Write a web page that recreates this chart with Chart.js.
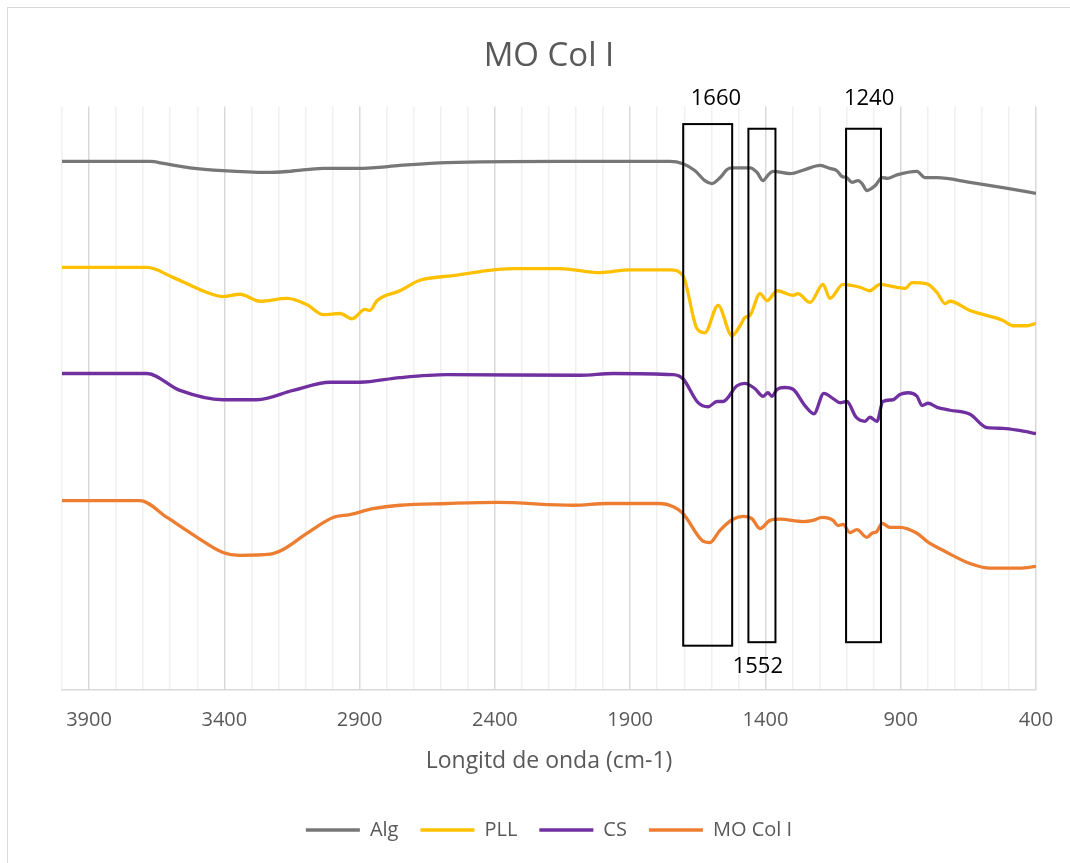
<!DOCTYPE html>
<html><head><meta charset="utf-8">
<script src="https://cdn.jsdelivr.net/npm/chart.js@4.4.0/dist/chart.umd.min.js"></script>
<style>
html,body{margin:0;padding:0;background:#fff;}
#wrap{position:relative;width:1070px;height:863px;overflow:hidden;background:#fff;}
#frame{position:absolute;left:7px;top:7px;width:1200px;height:1000px;border:1.5px solid #d9d9d9;box-sizing:border-box;}
canvas{position:absolute;left:0;top:0;}
</style></head><body>
<div id="wrap"><div id="frame"></div><canvas id="c" width="1070" height="863"></canvas></div>
<script>
// ---- Data (wavenumber cm-1, relative transmittance, arbitrary offset units) ----
const seriesNames = ['Alg', 'PLL', 'CS', 'MO Col I'];

const algWn  = [4000,3675,3619,3527,3405,3242,3157,3035,2910,2854,2751,2577,2159,1753,1705,1660,1624,1598,1568,1542,1524,1457,1431,1409,1391,1372,1309,1254,1198,1162,1136,1117,1099,1080,1058,1043,1025,995,969,947,914,840,810,766,644,522,400];
const algVal = [90.6,90.6,90.2,89.5,89.0,88.7,88.9,89.4,89.4,89.5,89.9,90.4,90.6,90.6,90.2,89.0,87.3,86.8,87.8,89.2,89.5,89.5,88.7,87.3,88.2,88.9,88.5,89.2,89.9,89.4,89.0,88.0,87.8,87.0,87.3,86.8,85.6,86.4,87.8,87.7,88.3,88.9,87.8,87.8,87.0,86.1,85.1];

const pllWn  = [4000,3686,3590,3464,3405,3342,3268,3168,3094,3035,2973,2928,2880,2862,2836,2751,2677,2555,2455,2333,2159,2012,1901,1753,1705,1653,1624,1575,1524,1494,1476,1457,1420,1394,1357,1298,1280,1235,1187,1162,1113,1051,1014,977,914,884,858,803,766,736,718,644,522,485,433,400];
const pllVal = [72.4,72.4,70.7,68.1,67.4,67.8,66.6,67.1,66.0,64.3,64.5,63.6,65.2,65.0,66.7,68.4,70.2,71.0,71.7,72.2,72.2,71.5,72.0,72.0,71.0,61.9,61.2,65.9,60.7,62.4,63.8,64.2,67.9,66.7,68.4,67.6,67.9,66.4,69.5,67.1,69.5,69.0,68.4,69.5,69.0,68.8,69.8,69.6,68.1,66.2,66.6,65.0,63.3,62.4,62.4,62.8];

const csWn  = [4000,3686,3564,3405,3279,3146,3009,2899,2751,2577,2085,1963,1742,1705,1649,1612,1579,1557,1505,1476,1439,1409,1391,1376,1357,1328,1298,1254,1221,1184,1150,1125,1099,1065,1032,1014,988,966,929,903,873,840,821,799,766,718,644,581,522,448,400];
const csVal = [54.2,54.2,51.3,49.7,49.7,51.3,52.7,52.7,53.5,54.0,53.9,54.2,54.0,53.3,49.2,48.5,49.4,49.4,52.1,52.5,51.6,50.3,50.9,50.3,51.5,51.8,51.5,48.7,47.3,50.8,49.9,49.2,49.4,46.7,46.0,46.7,46.0,49.4,49.7,50.6,50.9,50.3,48.7,49.1,48.4,47.9,47.2,44.9,44.8,44.3,43.9];

const moWn  = [4000,3712,3612,3501,3405,3342,3231,3183,3094,2998,2936,2851,2751,2577,2392,2111,1986,1790,1742,1705,1635,1605,1568,1520,1483,1450,1420,1383,1346,1261,1224,1191,1150,1132,1113,1088,1062,1025,1006,988,969,940,903,840,803,729,644,570,459,400];
const moVal = [32.4,32.4,29.5,26.1,23.5,23.0,23.2,24.0,26.8,29.5,30.0,31.0,31.6,31.9,32.1,31.6,31.9,31.9,31.4,30.2,25.6,25.2,27.3,29.2,29.7,29.3,27.6,29.0,29.2,28.8,29.0,29.5,29.0,28.1,28.3,26.9,27.4,26.1,26.8,27.1,28.5,27.8,27.8,26.8,25.4,23.5,21.6,20.8,20.8,21.1];

// x-axis tick labels (major)
const majorTicks = [3900,3400,2900,2400,1900,1400,900,400];

// highlighted bands (cm-1) and their labels
const bandFrom  = [1704, 1463, 1102];
const bandTo    = [1523, 1363, 973];
const bandTop   = [97.0, 96.2, 96.2];
const bandBot   = [7.5, 8.1, 8.1];
const bandLabel = ['1660', '1552', '1240'];
const bandLabelX = [1583, 1428, 1017];
const bandLabelY = [101.4, 3.9, 101.4];

const FONT = '"Open Sans", "Liberation Sans", sans-serif';
const colors = ['#777777', '#FFC000', '#7030A0', '#ED7D31'];
const wns = [algWn, pllWn, csWn, moWn];
const vals = [algVal, pllVal, csVal, moVal];

const datasets = seriesNames.map((name, i) => ({
  label: name,
  data: wns[i].map((w, k) => ({x: w, y: vals[i][k]})),
  borderColor: colors[i],
  backgroundColor: colors[i],
  borderWidth: 3.3,
  pointRadius: 0,
  pointHoverRadius: 0,
  cubicInterpolationMode: 'monotone',
  fill: false
}));

const bandPlugin = {
  id: 'bands',
  afterDatasetsDraw(chart) {
    const {ctx, scales: {x, y}} = chart;
    ctx.save();
    ctx.strokeStyle = '#000';
    ctx.lineWidth = 2;
    for (let i = 0; i < bandFrom.length; i++) {
      const l = x.getPixelForValue(bandFrom[i]);
      const r = x.getPixelForValue(bandTo[i]);
      const t = y.getPixelForValue(bandTop[i]);
      const b = y.getPixelForValue(bandBot[i]);
      ctx.strokeRect(Math.min(l, r), t, Math.abs(r - l), b - t);
    }
    ctx.fillStyle = '#000';
    ctx.font = '22px ' + FONT;
    ctx.textAlign = 'center';
    ctx.textBaseline = 'middle';
    for (let i = 0; i < bandLabel.length; i++) {
      ctx.fillText(bandLabel[i], x.getPixelForValue(bandLabelX[i]), y.getPixelForValue(bandLabelY[i]));
    }
    ctx.restore();
  }
};

new Chart(document.getElementById('c'), {
  type: 'line',
  data: {datasets},
  plugins: [bandPlugin],
  options: {
    responsive: false,
    animation: false,
    events: [],
    layout: {padding: {left: 62, right: 34, top: 20, bottom: 13}},
    plugins: {
      title: {
        display: true, text: 'MO Col I', color: '#595959',
        font: {family: FONT, size: 33, weight: 'normal'},
        padding: {top: 17, bottom: 30}
      },
      legend: {
        position: 'bottom',
        labels: {
          usePointStyle: true, pointStyle: 'line', pointStyleWidth: 54,
          color: '#595959', font: {family: FONT, size: 20}, padding: 22
        }
      },
      tooltip: {enabled: false}
    },
    scales: {
      x: {
        type: 'linear', min: 400, max: 4000, reverse: true,
        ticks: {
          stepSize: 100, autoSkip: false, maxRotation: 0, padding: 3,
          color: '#595959', font: {family: FONT, size: 20, lineHeight: 2.8},
          callback: (v) => majorTicks.includes(v) ? String(v) : ''
        },
        grid: {
          drawTicks: false, lineWidth: 1.5,
          color: (c) => (c.tick && majorTicks.includes(c.tick.value)) ? '#d9d9d9' : '#f0f0f0'
        },
        border: {color: '#d9d9d9', width: 1.5},
        title: {
          display: true, text: 'Longitd de onda (cm-1)', color: '#595959',
          font: {family: FONT, size: 23}, padding: {top: -4, bottom: 23}
        }
      },
      y: {display: false, min: 0, max: 100}
    }
  }
});
</script>
</body></html>
